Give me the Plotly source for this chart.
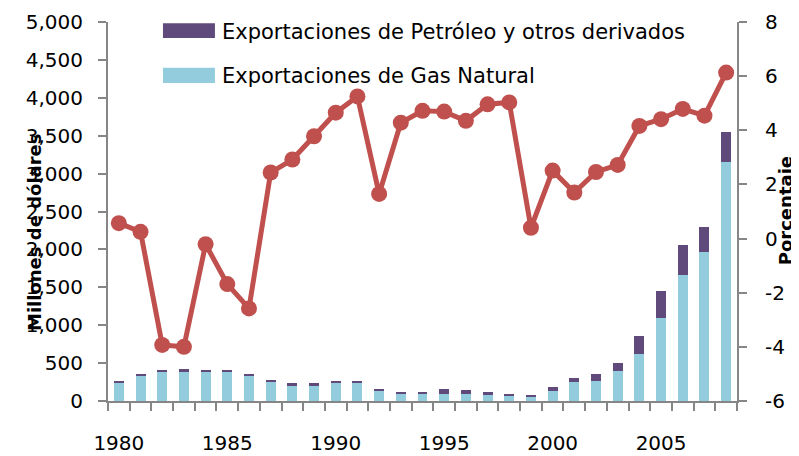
import plotly.graph_objects as go

years = list(range(1980, 2009))
gas_natural = [240, 330, 383, 383, 383, 383, 330, 255, 211, 211, 241, 241, 136, 92, 92,
               92, 92, 79, 66, 53, 132, 251, 264, 396, 620, 1095, 1662, 1966, 3153]
petroleo = [15, 26, 17, 39, 13, 13, 26, 13, 26, 26, 14, 14, 13, 27, 27,
            66, 53, 40, 26, 26, 53, 52, 92, 105, 238, 356, 396, 334, 400]
porcentaje = [0.57, 0.25, -3.93, -4.0, -0.21, -1.68, -2.58, 2.44, 2.92, 3.78, 4.65, 5.25, 1.65, 4.28, 4.72,
              4.69, 4.35, 4.96, 5.03, 0.40, 2.51, 1.70, 2.46, 2.72, 4.16, 4.41, 4.79, 4.54, 6.13]
x_ticks = [1980, 1985, 1990, 1995, 2000, 2005]
y2_ticks = [-6, -4, -2, 0, 2, 4, 6, 8]
y2_labels = ["-6", "-4", "-2", "0", "2", "4", "6", "8"]

C_GAS = "#93CDDD"
C_PET = "#604A7B"
C_LINE = "#C0504D"
GRAY = "#868686"
FONT = "DejaVu Sans"

fig = go.Figure()
fig.add_trace(go.Bar(x=years, y=gas_natural, name="Exportaciones de Gas Natural",
                     marker=dict(color=C_GAS, line=dict(width=0)), width=0.46, yaxis="y"))
fig.add_trace(go.Bar(x=years, y=petroleo, name="Exportaciones de Petróleo y otros derivados",
                     marker=dict(color=C_PET, line=dict(width=0)), width=0.46, yaxis="y"))
fig.add_trace(go.Scatter(x=years, y=porcentaje, mode="lines+markers", yaxis="y2",
                         line=dict(color=C_LINE, width=5),
                         marker=dict(color=C_LINE, size=16), showlegend=False))

axis_common = dict(showline=True, linecolor=GRAY, linewidth=2, showgrid=False, zeroline=False,
                   ticks="outside", ticklen=8, tickwidth=2, tickcolor=GRAY, automargin=False,
                   tickfont=dict(family=FONT, size=20, color="#000000"))

# page body has an 8px default margin: figure is placed at (8, 8)
fig.update_layout(
    width=791, height=448,
    margin=dict(l=100, r=62, t=14, b=55, autoexpand=False),
    paper_bgcolor="white", plot_bgcolor="white",
    barmode="stack", showlegend=False,
    xaxis=dict(range=[1979.5, 2008.5], tickmode="array", tickvals=x_ticks,
               showline=True, linecolor=GRAY, linewidth=2, showgrid=False, zeroline=False,
               ticks="", ticklabelstandoff=23, automargin=False,
               tickfont=dict(family=FONT, size=20, color="#000000"),
               minor=dict(tick0=1979.5, dtick=1, ticks="outside", ticklen=8, tickwidth=2,
                          tickcolor=GRAY, showgrid=False)),
    yaxis=dict(range=[0, 5000], dtick=500, tickformat=",", ticklabelstandoff=11, **axis_common),
    yaxis2=dict(range=[-6, 8], tickmode="array", tickvals=y2_ticks, ticktext=y2_labels,
                overlaying="y", side="right", ticklabelstandoff=14, **axis_common),
    shapes=[
        dict(type="rect", xref="paper", yref="paper", x0=0.0874, x1=0.170, y0=0.958, y1=0.997,
             fillcolor=C_PET, line=dict(width=0)),
        dict(type="rect", xref="paper", yref="paper", x0=0.0874, x1=0.170, y0=0.839, y1=0.879,
             fillcolor=C_GAS, line=dict(width=0)),
    ],
    annotations=[
        dict(text="Exportaciones de Petróleo y otros derivados", xref="paper", yref="paper",
             x=0.178, y=0.974, xanchor="left", yanchor="middle", showarrow=False,
             font=dict(family=FONT, size=21, color="#000000")),
        dict(text="Exportaciones de Gas Natural", xref="paper", yref="paper",
             x=0.178, y=0.857, xanchor="left", yanchor="middle", showarrow=False,
             font=dict(family=FONT, size=21, color="#000000")),
        dict(text="<b>Millones de dólares</b>", xref="paper", yref="paper",
             x=-0.116, y=0.446, xanchor="center", yanchor="middle", textangle=-90, showarrow=False,
             font=dict(family=FONT, size=18, color="#000000")),
        dict(text="<b>Porcentaje</b>", xref="paper", yref="paper",
             x=1.0765, y=0.501, xanchor="center", yanchor="middle", textangle=-90, showarrow=False,
             font=dict(family=FONT, size=18, color="#000000")),
    ],
)

fig.write_html("out.html")
